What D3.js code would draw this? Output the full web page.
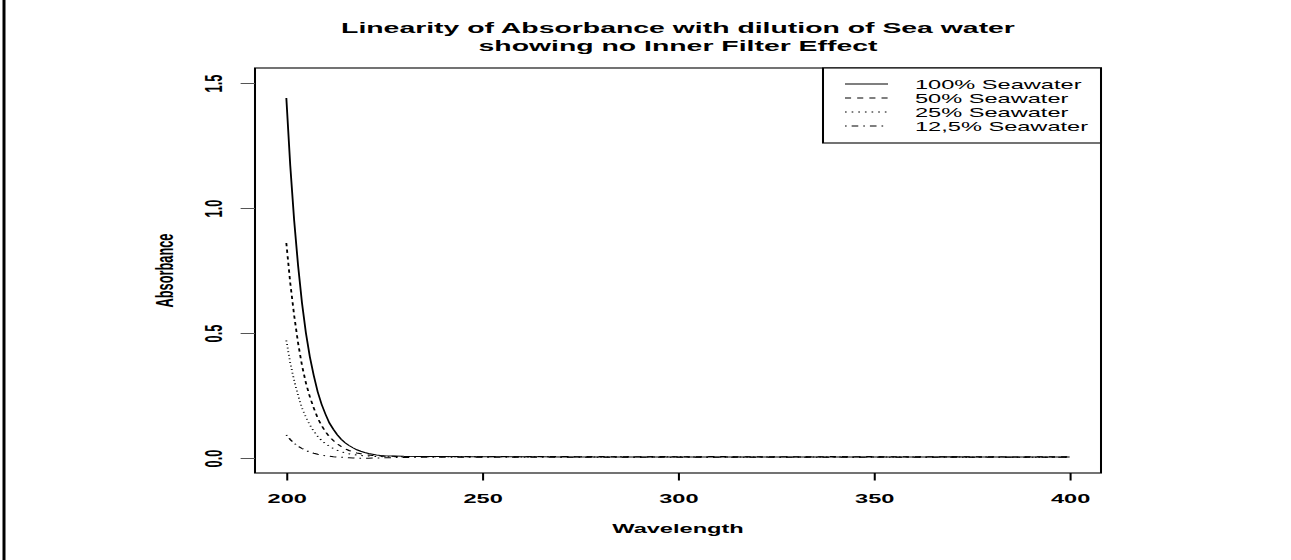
<!DOCTYPE html>
<html><head><meta charset="utf-8">
<script src="https://cdn.jsdelivr.net/npm/d3@7"></script>
<style>body{margin:0;background:#fff;} svg{display:block;}</style>
</head><body>
<svg id="c" width="1291" height="560"></svg>
<script>
// ---- data ----
const wavelengths = [200,201,202,203,204,205,206,207,208,209,210,211,212,213,214,215,216,217,218,219,220,221,222,223,224,225,
  230,235,240,245,250,255,260,265,270,275,280,285,290,295,300,305,310,315,320,325,330,335,340,345,350,355,360,365,370,375,380,385,390,395,400];
const sea100 = [1.44,1.17,0.95,0.77,0.62,0.50,0.405,0.33,0.265,0.215,0.175,0.14,0.115,0.093,0.075,0.061,0.05,0.041,0.033,0.027,0.022,0.018,0.015,0.012,0.010,0.009,
  0.007,0.006,0.006,0.005,0.005,0.005,0.005,0.005,0.004,0.004,0.004,0.004,0.004,0.004,0.004,0.004,0.004,0.004,0.004,0.004,0.004,0.004,0.004,0.004,0.004,0.004,0.004,0.004,0.005,0.004,0.004,0.004,0.004,0.004,0.004];
const sea50 = [0.86,0.70,0.57,0.46,0.37,0.30,0.245,0.20,0.16,0.13,0.105,0.085,0.07,0.057,0.046,0.037,0.03,0.025,0.02,0.017,0.014,0.012,0.010,0.009,0.008,0.007,
  0.006,0.006,0.006,0.006,0.005,0.006,0.005,0.006,0.006,0.005,0.006,0.005,0.005,0.006,0.005,0.005,0.006,0.005,0.005,0.005,0.005,0.005,0.006,0.005,0.006,0.005,0.005,0.005,0.005,0.005,0.005,0.004,0.005,0.005,0.005];
const sea25 = [0.47,0.38,0.31,0.25,0.20,0.163,0.132,0.107,0.087,0.07,0.057,0.047,0.038,0.031,0.025,0.021,0.017,0.014,0.012,0.010,0.009,0.008,0.007,0.006,0.006,0.005,
  0.005,0.005,0.005,0.005,0.005,0.005,0.004,0.005,0.005,0.005,0.004,0.005,0.004,0.004,0.005,0.004,0.004,0.004,0.004,0.004,0.004,0.004,0.004,0.004,0.004,0.004,0.004,0.004,0.004,0.003,0.004,0.003,0.003,0.003,0.003];
const sea125 = [0.092,0.074,0.059,0.047,0.038,0.030,0.024,0.019,0.015,0.012,0.009,0.007,0.005,0.004,0.003,0.002,0.001,0.0,-0.001,-0.001,-0.001,-0.001,0.0,0.0,0.0,0.001,
  0.002,0.003,0.003,0.003,0.003,0.003,0.003,0.003,0.003,0.003,0.003,0.003,0.003,0.003,0.003,0.003,0.003,0.003,0.003,0.003,0.003,0.003,0.003,0.003,0.003,0.003,0.003,0.003,0.003,0.003,0.003,0.003,0.003,0.003,0.003];
const seriesNames = ["100% Seawater","50% Seawater","25% Seawater","12,5% Seawater"];
const xTicks = [200,250,300,350,400];
const yTicks = [0,0.5,1.0,1.5];
const yTickLabels = ["0.0","0.5","1.0","1.5"];
const titleLines = ["Linearity of Absorbance with dilution of Sea water","showing no Inner Filter Effect"];
const xLabel = "Wavelength";
const yLabel = "Absorbance";

// ---- layout ----
const K = 1291/700;           // horizontal stretch of the original device
const FONT = "'Liberation Sans', Arial, Helvetica, sans-serif";
const svg = d3.select("#c");
svg.append("rect").attr("width",1291).attr("height",560).attr("fill","#fff");
svg.append("line").attr("x1",4).attr("x2",4).attr("y1",0).attr("y2",560)
   .attr("stroke","#000").attr("stroke-width",3);

const g = svg.append("g").attr("transform",`scale(${K},1)`);
const L = 255/K, R = 1101/K, T = 68, B = 473;
const x = d3.scaleLinear().domain([192,408]).range([L,R]);
const y = d3.scaleLinear().domain([-0.06,1.56]).range([B,T]);

// curves
const series = [sea100, sea50, sea25, sea125];
const dashes = [null, "3.3,3.3", "0.9,2.7", "0.9,2.7,3.6,2.7"];
const line = d3.line().x((d,i)=>x(wavelengths[i])).y(d=>y(d));
series.forEach((s,k)=>{
  g.append("path").datum(s).attr("d",line).attr("fill","none")
   .attr("stroke","#000").attr("stroke-width",1)
   .attr("stroke-dasharray",dashes[k]);
});

// frame
g.append("rect").attr("x",L).attr("y",T).attr("width",R-L).attr("height",B-T)
 .attr("fill","none").attr("stroke","#000").attr("stroke-width",1.1);

// x axis
const xa = g.append("g").attr("transform",`translate(0,${B})`)
  .call(d3.axisBottom(x).tickValues(xTicks).tickSize(7.5).tickPadding(13.5).tickFormat(d3.format("d")));
xa.select(".domain").remove();
xa.selectAll("line").attr("stroke","#000").attr("stroke-width",1.1);
xa.selectAll("text").attr("font-family",FONT).attr("font-size",12.8).attr("font-weight","bold").attr("fill","#000");

// y axis
const ya = g.append("g").attr("transform",`translate(${L},0)`)
  .call(d3.axisLeft(y).tickValues(yTicks).tickSize(7.8).tickFormat((d,i)=>yTickLabels[i]));
ya.select(".domain").remove();
ya.selectAll("line").attr("stroke","#555").attr("stroke-width",1);
ya.selectAll("text").attr("font-family",FONT).attr("font-size",12.8).attr("font-weight","bold").attr("fill","#000")
  .attr("x",null).attr("dy",null).attr("y",-(L-222/K)).attr("text-anchor","middle").attr("transform","rotate(-90)");

// titles
titleLines.forEach((t,i)=>{
  g.append("text").attr("x",(L+R)/2).attr("y",33+i*18.2).attr("text-anchor","middle")
   .attr("font-family",FONT).attr("font-size",15.4).attr("font-weight","bold").text(t);
});
g.append("text").attr("x",(L+R)/2).attr("y",533).attr("text-anchor","middle")
 .attr("font-family",FONT).attr("font-size",12.8).attr("font-weight","bold").text(xLabel);
g.append("text").attr("transform",`translate(${173/K},${(T+B)/2}) rotate(-90)`).attr("text-anchor","middle")
 .attr("font-family",FONT).attr("font-size",12.8).attr("font-weight","bold").text(yLabel);

// legend
const lgL = 823/K, lgT = 68, lgB = 143;
g.append("rect").attr("x",lgL).attr("y",lgT).attr("width",R-lgL).attr("height",lgB-lgT)
 .attr("fill","#fff").attr("stroke","#000").attr("stroke-width",1.1);
seriesNames.forEach((nm,k)=>{
  const yy = 84 + k*14;
  g.append("line").attr("x1",845/K).attr("x2",888/K).attr("y1",yy).attr("y2",yy)
   .attr("stroke","#000").attr("stroke-width",1).attr("stroke-dasharray",dashes[k]);
  g.append("text").attr("x",915/K).attr("y",yy).attr("dy","0.36em")
   .attr("font-family",FONT).attr("font-size",12.8).text(nm);
});
</script>
</body></html>
